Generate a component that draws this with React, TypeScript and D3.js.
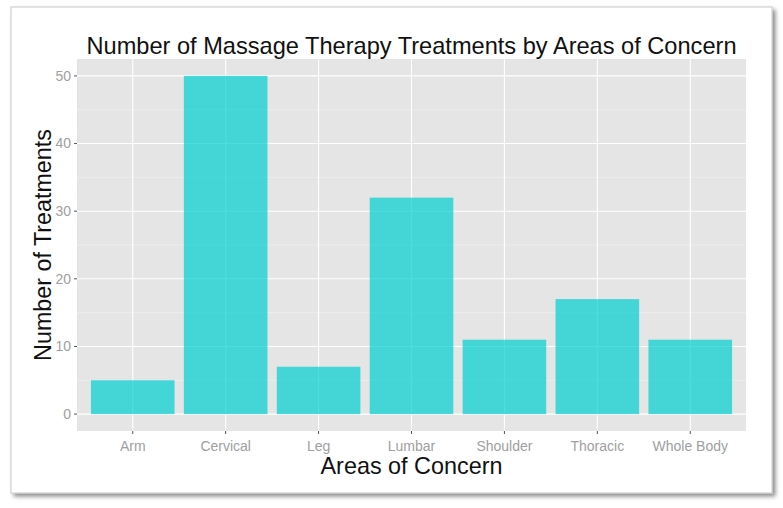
import * as d3 from 'd3';
import React from 'react';

const categories = ['Arm', 'Cervical', 'Leg', 'Lumbar', 'Shoulder', 'Thoracic', 'Whole Body'];
const treatments = [5, 50, 7, 32, 11, 17, 11];
const yTicks = [0, 10, 20, 30, 40, 50];
const yMinor = [5, 15, 25, 35, 45];

const W = 783;
const H = 508;
const panel = { left: 77, right: 746, top: 59, bottom: 431 };
const font = '"Liberation Sans", Arial, sans-serif';

export default function App() {
  const x = d3
    .scaleBand<string>()
    .domain(categories)
    .range([panel.left, panel.right])
    .paddingInner(0.1)
    .paddingOuter(0.15);
  const y = d3.scaleLinear().domain([-2.5, 52.5]).range([panel.bottom, panel.top]);
  const cx = (c: string) => (x(c) ?? 0) + x.bandwidth() / 2;

  return (
    <svg width={W} height={H} style={{ position: 'absolute', left: 0, top: 0 }}>
      <defs>
        <filter id="shadow" x="-5%" y="-5%" width="110%" height="110%">
          <feDropShadow dx="3" dy="3" stdDeviation="2" floodColor="#000" floodOpacity="0.45" />
        </filter>
      </defs>
      <rect x={0} y={0} width={W} height={H} fill="#fff" />
      {/* framed picture */}
      <rect x={11} y={7} width={761} height={486} fill="#fff" stroke="#c8c8c8" strokeWidth={1} filter="url(#shadow)" />

      {/* panel */}
      <rect x={panel.left} y={panel.top} width={panel.right - panel.left} height={panel.bottom - panel.top} fill="#e5e5e5" />
      {yMinor.map(v => (
        <line key={'mn' + v} x1={panel.left} x2={panel.right} y1={y(v)} y2={y(v)} stroke="#f2f2f2" strokeWidth={0.6} />
      ))}
      {yTicks.map(v => (
        <line key={'mj' + v} x1={panel.left} x2={panel.right} y1={y(v)} y2={y(v)} stroke="#fff" strokeWidth={1.1} />
      ))}
      {categories.map(c => (
        <line key={'vx' + c} x1={cx(c)} x2={cx(c)} y1={panel.top} y2={panel.bottom} stroke="#fff" strokeWidth={1.1} />
      ))}

      {/* bars */}
      {categories.map((c, i) => (
        <rect
          key={c}
          x={x(c)}
          y={y(treatments[i])}
          width={x.bandwidth()}
          height={y(0) - y(treatments[i])}
          fill="#00ced1"
          fillOpacity={0.7}
        />
      ))}

      {/* y axis */}
      {yTicks.map(v => (
        <g key={'yt' + v}>
          <line x1={panel.left - 3} x2={panel.left} y1={y(v)} y2={y(v)} stroke="#555" strokeWidth={1} />
          <text x={panel.left - 6} y={y(v)} dy="0.35em" textAnchor="end" fontFamily={font} fontSize={14} fill="#a0a0a0">
            {v}
          </text>
        </g>
      ))}

      {/* x axis */}
      {categories.map(c => (
        <g key={'xt' + c}>
          <line x1={cx(c)} x2={cx(c)} y1={panel.bottom} y2={panel.bottom + 3} stroke="#555" strokeWidth={1} />
          <text x={cx(c)} y={451} textAnchor="middle" fontFamily={font} fontSize={14} fill="#a0a0a0">
            {c}
          </text>
        </g>
      ))}

      {/* titles */}
      <text x={(panel.left + panel.right) / 2} y={54} textAnchor="middle" fontFamily={font} fontSize={23.6} fill="#111">
        Number of Massage Therapy Treatments by Areas of Concern
      </text>
      <text x={(panel.left + panel.right) / 2} y={474} textAnchor="middle" fontFamily={font} fontSize={23.4} fill="#111">
        Areas of Concern
      </text>
      <text
        transform={`translate(51,${(panel.top + panel.bottom) / 2}) rotate(-90)`}
        textAnchor="middle"
        fontFamily={font}
        fontSize={23.3}
        fill="#111"
      >
        Number of Treatments
      </text>
    </svg>
  );
}
